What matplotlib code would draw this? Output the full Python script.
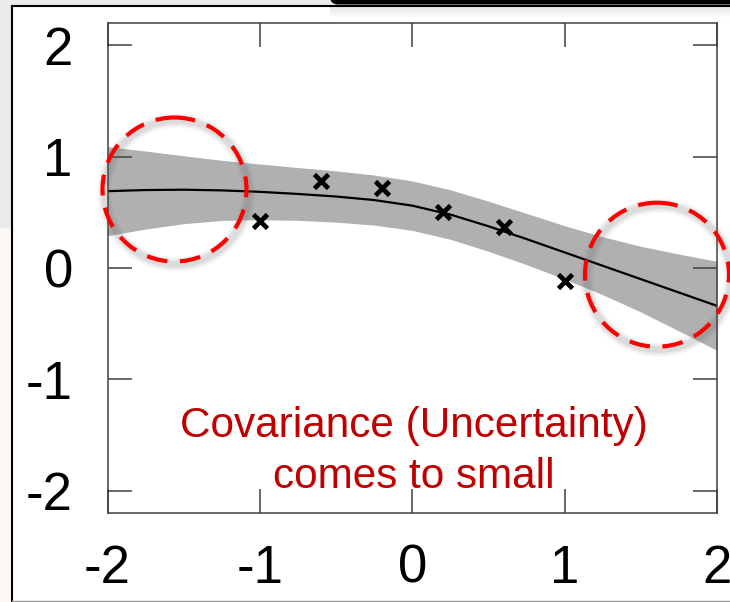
import numpy as np
import matplotlib
matplotlib.use("Agg")
import matplotlib.pyplot as plt
from matplotlib.patches import Ellipse, Rectangle, FancyBboxPatch
from matplotlib.lines import Line2D
import matplotlib.transforms as mtransforms

# ---------------- data ----------------
x_grid = [-2.0, -1.75, -1.5, -1.25, -1.0, -0.75, -0.5, -0.25, 0.0,
          0.25, 0.5, 0.75, 1.0, 1.25, 1.5, 1.75, 2.0]
mean_vals = [0.69, 0.70, 0.703, 0.697, 0.684, 0.665, 0.642, 0.61, 0.56,
             0.48, 0.375, 0.26, 0.14, 0.02, -0.10, -0.22, -0.34]
band_half = [0.40, 0.35, 0.305, 0.27, 0.25, 0.237, 0.23, 0.225, 0.222,
             0.222, 0.225, 0.23, 0.24, 0.26, 0.295, 0.345, 0.40]
obs_x = [-1.0, -0.6, -0.2, 0.2, 0.6, 1.0]
obs_y = [0.42, 0.78, 0.72, 0.50, 0.37, -0.12]
xticks = [-2, -1, 0, 1, 2]
yticks = [-2, -1, 0, 1, 2]
note_lines = ["Covariance (Uncertainty)", "comes to small"]

plt.rcParams['font.family'] = ['Liberation Sans', 'DejaVu Sans']

W, H = 730, 602
fig = plt.figure(figsize=(W / 100, H / 100), dpi=100)
fig.patch.set_facecolor('#ebebeb')

# pixel transform (origin top-left)
px = mtransforms.Affine2D().scale(1 / W, -1 / H).translate(0, 1) + fig.transFigure

# slide background pieces
fig.add_artist(Rectangle((0, 228), 12, 380, transform=px, color='#fcf8f4', zorder=-10, lw=0))
fig.add_artist(Rectangle((11.5, 6), 740, 600, transform=px, color='white', zorder=-9, lw=0))
# soft shadow under top bar
for i, a in enumerate([0.18, 0.12, 0.07, 0.04]):
    fig.add_artist(Rectangle((330, 7 + i * 2.5), 420, 2.5, transform=px,
                             color='#888888', alpha=a, zorder=-8, lw=0))
fig.add_artist(Line2D([11.5, 11.5], [6, 602], transform=px, color='black', lw=1.5, zorder=-7))
fig.add_artist(Line2D([11.5, 730], [6, 6], transform=px, color='black', lw=1.5, zorder=-7))
fig.add_artist(Line2D([11.5, 730], [600.5, 600.5], transform=px, color='#9a9a9a', lw=1.0, zorder=-7))
fig.add_artist(FancyBboxPatch((330, -10), 420, 14.5, boxstyle="round,pad=0,rounding_size=8",
                              transform=px, color='black', zorder=-6, lw=0))

# ---------------- axes ----------------
left, right, top, bottom = 107.5, 717, 23, 513
ax = fig.add_axes([left / W, (H - bottom) / H, (right - left) / W, (bottom - top) / H])
ax.set_facecolor('white')

xg = np.array(x_grid)
m = np.array(mean_vals)
b = np.array(band_half)
ax.fill_between(xg, m - b, m + b, color='#b0b0b0', lw=0, zorder=1)
ax.plot(xg, m, color='black', lw=1.6, zorder=2)
ax.plot(obs_x, obs_y, 'x', color='black', ms=10.5, mew=3.4, zorder=3)

ax.set_xlim(-2, 2)
ax.set_ylim(-2.2, 2.2)
ax.set_xticks(xticks)
ax.set_yticks(yticks)
ax.set_xticklabels([str(t) for t in xticks])
ax.set_yticklabels([str(t) for t in yticks])
ax.tick_params(direction='in', length=17, width=1.1, color='#404040',
               top=True, right=True, labelsize=38)
ax.tick_params(axis='x', pad=22)
ax.tick_params(axis='y', pad=25)
for s in ax.spines.values():
    s.set_color('#404040')
    s.set_linewidth(1.1)

# note text
ax.text(0.01, (268 - 437) / 111.5, note_lines[0], ha='center', va='baseline',
        fontsize=30.4, color='#c00000', zorder=4)
ax.text(0.01, (268 - 488) / 111.5, note_lines[1], ha='center', va='baseline',
        fontsize=30.4, color='#c00000', zorder=4)

# dashed highlight circles with soft shadow
for cx, cy in [(174.5, 189.5), (657, 274.7)]:
    for lw_s, a in [(10, 0.06), (7, 0.08), (4.5, 0.1)]:
        fig.add_artist(Ellipse((cx + 2, cy + 3), 144, 144, transform=px, fill=False,
                               ec='#606060', lw=lw_s, alpha=a, zorder=5))
    fig.add_artist(Ellipse((cx, cy), 144, 144, transform=px, fill=False, ec='#ff0000',
                           lw=3, ls=(0, (5, 3)), zorder=6))

fig.savefig('out.png', dpi=100)
